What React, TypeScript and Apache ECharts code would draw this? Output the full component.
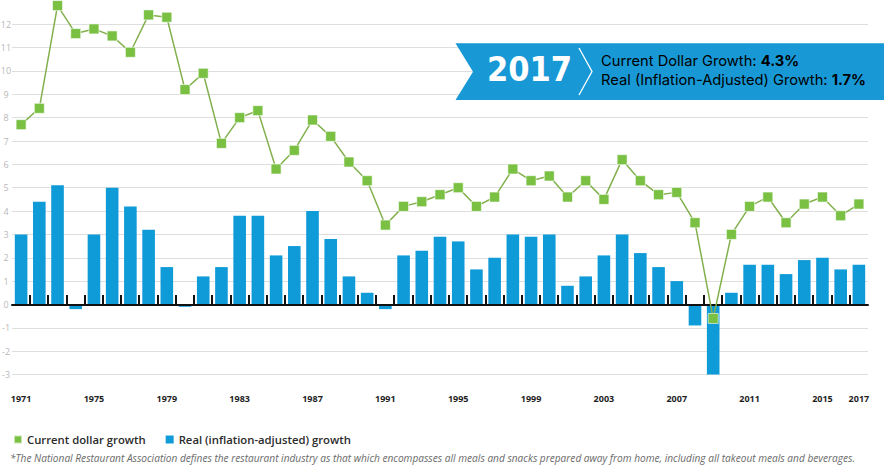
import React, { useEffect, useRef } from "react";
import * as echarts from "echarts";

const years = [
  "1971", "1972", "1973", "1974", "1975", "1976", "1977", "1978", "1979", "1980",
  "1981", "1982", "1983", "1984", "1985", "1986", "1987", "1988", "1989", "1990",
  "1991", "1992", "1993", "1994", "1995", "1996", "1997", "1998", "1999", "2000",
  "2001", "2002", "2003", "2004", "2005", "2006", "2007", "2008", "2009", "2010",
  "2011", "2012", "2013", "2014", "2015", "2016", "2017",
];

const labelYears = ["1971", "1975", "1979", "1983", "1987", "1991", "1995", "1999", "2003", "2007", "2011", "2015", "2017"];

const currentGrowth = [
  7.7, 8.4, 12.8, 11.6, 11.8, 11.5, 10.8, 12.4, 12.3, 9.2,
  9.9, 6.9, 8.0, 8.3, 5.8, 6.6, 7.9, 7.2, 6.1, 5.3,
  3.4, 4.2, 4.4, 4.7, 5.0, 4.2, 4.6, 5.8, 5.3, 5.5,
  4.6, 5.3, 4.5, 6.2, 5.3, 4.7, 4.8, 3.5, -0.6, 3.0,
  4.2, 4.6, 3.5, 4.3, 4.6, 3.8, 4.3,
];

const realGrowth = [
  3.0, 4.4, 5.1, -0.2, 3.0, 5.0, 4.2, 3.2, 1.6, -0.1,
  1.2, 1.6, 3.8, 3.8, 2.1, 2.5, 4.0, 2.8, 1.2, 0.5,
  -0.2, 2.1, 2.3, 2.9, 2.7, 1.5, 2.0, 3.0, 2.9, 3.0,
  0.8, 1.2, 2.1, 3.0, 2.2, 1.6, 1.0, -0.9, -3.0, 0.5,
  1.7, 1.7, 1.3, 1.9, 2.0, 1.5, 1.7,
];

const seriesNames = ["Current dollar growth", "Real (inflation-adjusted) growth"];
const bannerYear = "2017";
const bannerLine1 = "Current Dollar Growth: ";
const bannerValue1 = "4.3%";
const bannerLine2 = "Real (Inflation-Adjusted) Growth: ";
const bannerValue2 = "1.7%";
const footnote =
  "*The National Restaurant Association defines the restaurant industry as that which encompasses all meals and snacks prepared away from home, including all takeout meals and beverages.";

const FONT = "'Open Sans', 'DejaVu Sans', sans-serif";
const BANNER_FONT = "Inter, 'Open Sans', sans-serif";
const BLUE = "#0f9ad8";
const GREEN = "#79c043";

export default function App() {
  const ref = useRef<HTMLDivElement>(null);

  useEffect(() => {
    if (!ref.current) return;
    const chart = echarts.init(ref.current, undefined, { renderer: "svg" });

    const tickData = years.slice(1).map((y) => [y, 0]);

    chart.setOption({
      animation: false,
      backgroundColor: "#ffffff",
      textStyle: { fontFamily: FONT },
      grid: {
        left: 12,
        right: 16,
        top: 0.9,
        bottom: 90.5,
        containLabel: false,
        outerBoundsMode: "none",
      },
      legend: {
        data: seriesNames,
        left: 13,
        top: 434,
        padding: 0,
        icon: "rect",
        itemWidth: 8,
        itemHeight: 8,
        itemGap: 20,
        selectedMode: false,
        textStyle: { fontFamily: FONT, fontSize: 11.3, fontWeight: 600, color: "#2b2b2b" },
      },
      xAxis: {
        type: "category",
        data: years,
        boundaryGap: true,
        z: 3,
        axisLine: { show: true, onZero: true, lineStyle: { color: "#111111", width: 2 } },
        axisTick: { show: false },
        splitLine: { show: false },
        axisLabel: {
          interval: (_i: number, v: string) => labelYears.indexOf(v) >= 0,
          margin: 19.5,
          fontSize: 9,
          fontWeight: "bold",
          color: "#1e1e1e",
          fontFamily: FONT,
        },
      },
      yAxis: {
        type: "value",
        min: -3,
        max: 13,
        interval: 1,
        axisLine: { show: false },
        axisTick: { show: false },
        axisLabel: {
          showMaxLabel: false,
          align: "center",
          margin: 6,
          fontSize: 9,
          color: "#b8b8b8",
          fontFamily: FONT,
        },
        splitLine: { show: true, showMaxLine: false, lineStyle: { color: "#dedede", width: 1.2 } },
      },
      series: [
        {
          name: seriesNames[1],
          type: "bar",
          data: realGrowth,
          barWidth: 12.6,
          itemStyle: { color: BLUE },
          z: 2,
        },
        {
          name: "ticks",
          type: "custom",
          data: tickData,
          encode: { x: 0, y: 1 },
          silent: true,
          z: 3,
          renderItem: (_p: any, api: any) => {
            const idx = api.value(0);
            const pt = api.coord([idx, 0]);
            const bw = api.size([1, 0])[0];
            const x = Math.round(pt[0] - bw / 2);
            return {
              type: "line",
              shape: { x1: x, y1: pt[1], x2: x, y2: pt[1] - 9.5 },
              style: { stroke: "#111111", lineWidth: 2 },
            };
          },
        },
        {
          name: seriesNames[0],
          type: "line",
          data: currentGrowth,
          symbol: "rect",
          symbolSize: 10,
          z: 5,
          lineStyle: { color: "#82b04c", width: 1.5 },
          itemStyle: { color: GREEN, borderColor: "rgba(255,255,255,0.6)", borderWidth: 1 },
        },
      ],
      graphic: [
        {
          type: "polygon",
          z: 10,
          shape: {
            points: [
              [455.5, 43.3],
              [884, 43.3],
              [884, 100],
              [455.5, 100],
              [473, 71.7],
            ],
          },
          style: { fill: "#1899d6" },
        },
        {
          type: "text",
          z: 11,
          x: 487,
          y: 68.5,
          style: {
            text: bannerYear,
            fill: "#ffffff",
            fontFamily: "'DejaVu Sans Condensed', 'DejaVu Sans', sans-serif",
            fontWeight: "bold",
            fontSize: 34,
            verticalAlign: "middle",
            align: "left",
          },
        },
        {
          type: "polyline",
          z: 11,
          shape: { points: [[579, 48], [592, 71.5], [579, 95]] },
          style: { stroke: "#ffffff", lineWidth: 1.3, fill: null },
        },
        {
          type: "text",
          z: 11,
          x: 601,
          y: 70.5,
          style: {
            text: `{n|${bannerLine1}}{b|${bannerValue1}}\n{n|${bannerLine2}}{b|${bannerValue2}}`,
            verticalAlign: "middle",
            align: "left",
            rich: {
              n: { fontFamily: BANNER_FONT, fontSize: 14.7, color: "#ffffff", lineHeight: 19.5 },
              b: { fontFamily: BANNER_FONT, fontSize: 14.7, fontWeight: "bold", color: "#ffffff", lineHeight: 19.5 },
            },
          },
        },
        {
          type: "text",
          z: 11,
          x: 10,
          y: 457.5,
          style: {
            text: footnote,
            fill: "#6a6a6a",
            fontFamily: FONT,
            fontStyle: "italic",
            fontSize: 10.15,
            verticalAlign: "middle",
            align: "left",
          },
        },
      ],
    });

    return () => chart.dispose();
  }, []);

  return (
    <div
      ref={ref}
      style={{ position: "fixed", left: 0, top: 0, width: 884, height: 465 }}
    />
  );
}
